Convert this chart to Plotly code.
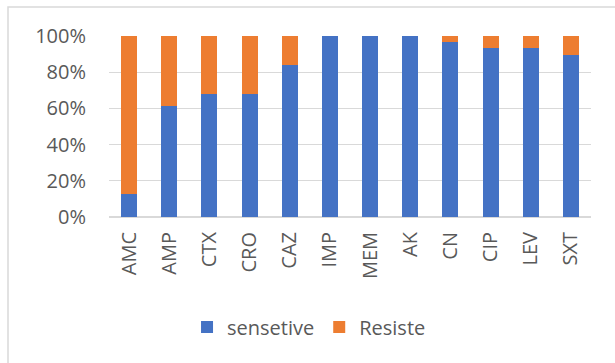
import plotly.graph_objects as go

# Antibiotic susceptibility profile (percent of isolates)
antibiotics = ["AMC", "AMP", "CTX", "CRO", "CAZ", "IMP", "MEM", "AK", "CN", "CIP", "LEV", "SXT"]
sensitive_pct = [12.9, 61.3, 67.7, 67.7, 83.9, 100, 100, 100, 96.8, 93.5, 93.5, 89.3]
resistant_pct = [87.1, 38.7, 32.3, 32.3, 16.1, 0, 0, 0, 3.2, 6.5, 6.5, 10.7]
y_ticks = [0, 20, 40, 60, 80, 100]
y_tick_labels = ["0%", "20%", "40%", "60%", "80%", "100%"]

W, H = 615, 363
L, R, T, B = 109, 24, 36, 146
font_color = "#595959"
grid_color = "#d9d9d9"

fig = go.Figure()
fig.add_trace(go.Bar(
    x=antibiotics, y=sensitive_pct, name="sensetive",
    marker=dict(color="#4472C4", line=dict(width=0)),
))
fig.add_trace(go.Bar(
    x=antibiotics, y=resistant_pct, name="Resiste",
    marker=dict(color="#ED7D31", line=dict(width=0)),
))

pw = W - L - R
ph = H - T - B
# outer chart frame (right and bottom edges run past the page edge)
fig.add_shape(
    type="rect", xref="paper", yref="paper",
    x0=(8 - L) / pw, x1=(W + 20 - L) / pw,
    y0=(H - B - (H + 20)) / ph, y1=(H - B - 7) / ph,
    line=dict(color=grid_color, width=1.5), fillcolor="rgba(0,0,0,0)",
    layer="below",
)

fig.update_layout(
    width=W, height=H,
    margin=dict(l=L, r=R, t=T, b=B),
    barmode="stack", bargap=0.6,
    plot_bgcolor="white", paper_bgcolor="white",
    font=dict(family="Open Sans", size=20, color=font_color),
    showlegend=True,
    legend=dict(
        orientation="h", x=0.415, xanchor="center", y=(H - B - 327) / ph, yanchor="middle",
        font=dict(size=20, color=font_color), itemwidth=30, tracegroupgap=0,
        traceorder="normal",
    ),
    xaxis=dict(
        tickangle=-90, showgrid=False, showline=False, zeroline=False,
        ticks="", ticklabelstandoff=10,
        tickfont=dict(size=20, color=font_color),
    ),
    yaxis=dict(
        range=[0, 100], tickmode="array", tickvals=y_ticks, ticktext=y_tick_labels,
        showgrid=True, gridcolor=grid_color, gridwidth=1,
        zeroline=True, zerolinecolor=grid_color, zerolinewidth=1.5,
        showline=False, ticks="", ticklabelstandoff=22,
        tickfont=dict(size=20, color=font_color),
    ),
)

fig.write_html("out.html")
